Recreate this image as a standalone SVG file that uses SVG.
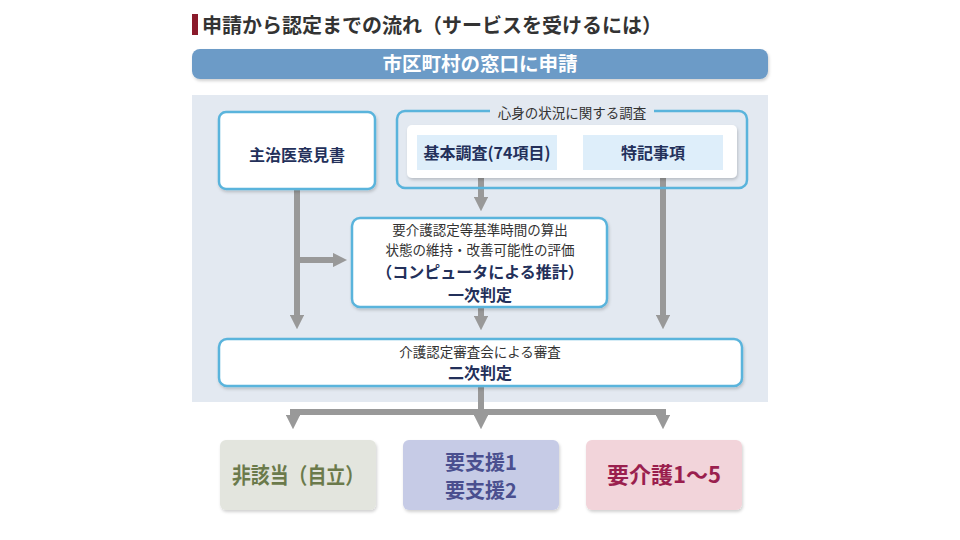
<svg xmlns="http://www.w3.org/2000/svg" width="960" height="540" viewBox="0 0 960 540">
<defs>
<filter id="sh" x="-10%" y="-10%" width="120%" height="130%"><feDropShadow dx="1" dy="2" stdDeviation="1.5" flood-color="#000" flood-opacity="0.18"/></filter>
<marker id="ah" viewBox="0 0 10 10" refX="5" refY="5" markerWidth="2.4" markerHeight="2.4" orient="auto" markerUnits="strokeWidth"><path d="M0,0 L10,5 L0,10 Z" fill="#999"/></marker>
<style>
text{font-family:"Noto Sans CJK JP","Noto Sans",sans-serif;text-anchor:middle}
.box{fill:#fff;stroke:#5ab4dc;stroke-width:2.5}
.n{font-size:13.5px;fill:#333}
.b{font-size:16px;font-weight:bold;fill:#23305a}
.con{stroke:#999;stroke-width:6;fill:none}
.res{font-size:22px;font-weight:bold}
</style>
</defs>
<rect width="960" height="540" fill="#fff"/>
<rect x="192" y="14" width="6" height="21" fill="#8a1a2b"/>
<text x="202" y="33" style="font-size:20px;font-weight:bold;fill:#333;text-anchor:start">申請から認定までの流れ（サービスを受けるには）</text>
<g id="apply">
<rect x="192" y="49" width="576" height="30" rx="8" fill="#6c9bc7" filter="url(#sh)"/>
<text x="480" y="71" style="font-size:19.5px;font-weight:bold;fill:#fff">市区町村の窓口に申請</text>
</g>
<rect x="192" y="95" width="576" height="307" fill="#e3e9f1"/>
<g id="connectors">
<line class="con" x1="297" y1="189" x2="297" y2="322" marker-end="url(#ah)"/>
<line class="con" x1="297" y1="260" x2="340" y2="260" marker-end="url(#ah)"/>
<line class="con" x1="481" y1="178" x2="481" y2="204" marker-end="url(#ah)"/>
<line class="con" x1="663" y1="178" x2="663" y2="322" marker-end="url(#ah)"/>
<line class="con" x1="481" y1="307" x2="481" y2="323" marker-end="url(#ah)"/>
<polyline class="con" points="481,386 481,412"/>
<polyline class="con" points="293,422 293,412 663,412 663,422"/>
<line class="con" x1="293" y1="412" x2="293" y2="422" marker-end="url(#ah)"/>
<line class="con" x1="481" y1="412" x2="481" y2="422" marker-end="url(#ah)"/>
<line class="con" x1="663" y1="412" x2="663" y2="422" marker-end="url(#ah)"/>
</g>
<g id="opinion">
<rect class="box" x="219" y="112" width="156" height="77" rx="7" filter="url(#sh)"/>
<text class="b" x="297" y="161">主治医意見書</text>
</g>
<g id="survey">
<rect class="box" x="397" y="111" width="350" height="77" rx="8" style="fill:none"/>
<rect x="490" y="104" width="164" height="14" fill="#e3e9f1"/>
<text class="n" x="572" y="118">心身の状況に関する調査</text>
<rect x="407" y="125" width="330" height="53" rx="5" fill="#fff" filter="url(#sh)"/>
<rect x="417" y="135" width="140" height="35" fill="#deeefa"/>
<text class="b" x="487" y="159">基本調査(74項目)</text>
<rect x="583" y="135" width="140" height="35" fill="#deeefa"/>
<text class="b" x="653" y="159">特記事項</text>
</g>
<g id="primary">
<rect class="box" x="352" y="218" width="255" height="89" rx="8" filter="url(#sh)"/>
<text class="n" x="480" y="235">要介護認定等基準時間の算出</text>
<text class="n" x="480" y="255">状態の維持・改善可能性の評価</text>
<text class="b" x="480" y="278">（コンピュータによる推計）</text>
<text class="b" x="480" y="301">一次判定</text>
</g>
<g id="secondary">
<rect class="box" x="219" y="339" width="523" height="47" rx="8" filter="url(#sh)"/>
<text class="n" x="480" y="357">介護認定審査会による審査</text>
<text class="b" x="480" y="379">二次判定</text>
</g>
<g id="r1">
<rect x="220" y="440" width="156" height="70" rx="6" fill="#e3e5de" filter="url(#sh)"/>
<text class="res" x="298" y="483" fill="#6b7a4b" textLength="132" lengthAdjust="spacingAndGlyphs">非該当（自立）</text>
</g>
<g id="r2">
<rect x="403" y="440" width="156" height="70" rx="6" fill="#c6cbe6" filter="url(#sh)"/>
<text class="res" x="481" y="470" fill="#4a4f8f" style="font-size:20px">要支援1</text>
<text class="res" x="481" y="498" fill="#4a4f8f" style="font-size:20px">要支援2</text>
</g>
<g id="r3">
<rect x="586" y="440" width="156" height="70" rx="6" fill="#f2d4da" filter="url(#sh)"/>
<text class="res" x="664" y="483" fill="#9a1f4e">要介護1～5</text>
</g>
</svg>
